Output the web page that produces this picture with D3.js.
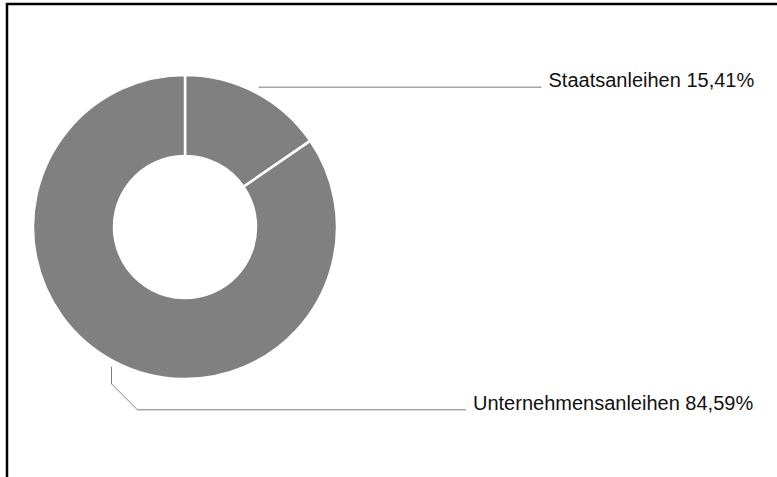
<!DOCTYPE html>
<html>
<head>
<meta charset="utf-8">
<script src="https://cdn.jsdelivr.net/npm/d3@7"></script>
<style>
  body { margin: 0; background: #fff; }
  text { font-family: "Liberation Sans", Arial, sans-serif; font-size: 20px; fill: #111; }
</style>
</head>
<body>
<svg width="777" height="477"></svg>
<script>
// chart data
const categories = ["Staatsanleihen", "Unternehmensanleihen"];
const values = [15.41, 84.59];
const valueLabels = ["15,41%", "84,59%"];

const svg = d3.select("svg");

// frame (top and left only)
svg.append("path")
  .attr("d", "M7,477 L7,4 L777,4")
  .attr("fill", "none")
  .attr("stroke", "#000")
  .attr("stroke-width", 2.5);

// donut
const cx = 185, cy = 227;
const outer = 152, inner = 71;
const arc = d3.arc().innerRadius(inner).outerRadius(outer);
const labelArc = d3.arc().innerRadius(158).outerRadius(158);
const pie = d3.pie().value(d => d.value).sort(null);

const data = categories.map((c, i) => ({ name: c, value: values[i], label: valueLabels[i] }));
const arcs = pie(data);

const g = svg.append("g").attr("transform", "translate(" + cx + "," + cy + ")");

g.selectAll(".slice")
  .data(arcs)
  .enter()
  .append("path")
  .attr("class", "slice")
  .attr("d", arc)
  .attr("fill", "#808080")
  .attr("stroke", "#fff")
  .attr("stroke-width", 2.5);

// leader lines and labels
const lineEnd = [541.5, 466];
arcs.forEach((d, i) => {
  const [px, py] = labelArc.centroid(d);
  const x0 = cx + px, y0 = cy + py;
  let pts, ty;
  if (i === 0) {
    pts = [[x0, y0], [lineEnd[i], y0]];
    ty = y0;
  } else {
    const y1 = y0 + 17;
    const y2 = y1 + 26;
    pts = [[x0, y0], [x0, y1], [x0 + 26, y2], [lineEnd[i], y2]];
    ty = y2;
  }
  svg.append("path")
    .attr("d", d3.line()(pts))
    .attr("fill", "none")
    .attr("stroke", "#7a7a7a")
    .attr("stroke-width", 1);
  svg.append("text")
    .attr("x", lineEnd[i] + 7)
    .attr("y", ty)
    .text(d.data.name + " " + d.data.label);
});
</script>
</body>
</html>
